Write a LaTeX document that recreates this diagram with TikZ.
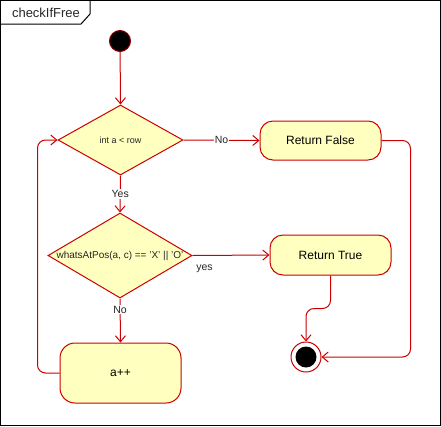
\documentclass[tikz,border=0pt]{standalone}
\usepackage{fontspec}
\setmainfont{Liberation Sans}
\usetikzlibrary{shapes.geometric,arrows.meta}
\definecolor{lred}{HTML}{CC0000}
\definecolor{lfill}{HTML}{FFFFC0}
\begin{document}
\begin{tikzpicture}[x=1pt,y=-1pt,
  act/.style={draw=lred,fill=lfill,rounded corners=13pt,line width=1pt,font=\fontsize{12}{14}\selectfont,inner sep=0},
  dec/.style={diamond,draw=lred,fill=lfill,line width=1pt,inner sep=0},
  flow/.style={draw=lred,line width=1pt,-{Straight Barb[length=6pt,width=10pt]}},
  lbl/.style={font=\fontsize{10.5}{12}\selectfont,fill=white,inner sep=1pt,text=black!85}]
\useasboundingbox (0,0) rectangle (441,426);
\draw[line width=1pt] (0.5,0.5) rectangle (440.5,425.5);
\draw[line width=1pt] (0.5,24) -- (81,24) -- (90,14) -- (90,0.5);
\node[font=\fontsize{13}{15}\selectfont,text=black!85] (title) at (46,12.5) {checkIfFree};

\node[circle,fill=black,draw=lred!70!black,line width=1pt,minimum size=21pt,inner sep=0] (start) at (120,41) {};

\node[dec,minimum width=125pt,minimum height=70pt,
  label={[font=\fontsize{9}{11}\selectfont,text=black!85]center:int a < row}] (d1) at (120.5,140) {};
\node[act,minimum width=121pt,minimum height=39pt] (rf) at (320.5,140.5) {Return False};
\node[dec,minimum width=144pt,minimum height=85pt,
  label={[font=\fontsize{10}{12}\selectfont,text=black!85]center:whatsAtPos(a, c) == 'X' || 'O'}] (d2) at (120,255.5) {};
\node[act,minimum width=121pt,minimum height=40pt] (rt) at (330.5,255) {Return True};
\node[act,rounded corners=15pt,minimum width=121pt,minimum height=60pt] (app) at (120.5,373) {a++};

\node[circle,draw=lred,fill=white,line width=1pt,minimum size=30pt,inner sep=0] (fin) at (306,357) {};
\node[circle,fill=black,minimum size=21pt,inner sep=0] (finin) at (fin.center) {};

\draw[flow] (start) -- (d1.north);
\draw[flow] (d1.east) -- node[lbl]{No} (rf.west);
\draw[flow] (d1.south) -- node[lbl]{Yes} (d2.north);
\draw[flow] (d2.east) -- node[pos=0,anchor=west,xshift=0pt,yshift=-13pt,font=\fontsize{10.5}{12}\selectfont,text=black!85]{yes} (rt.west);
\draw[flow] (d2.south) -- node[lbl,pos=0.25]{No} (app.north);
\draw[flow,rounded corners=8pt] (app.west) -- ++(-22,0) |- (d1.west);
\draw[flow,rounded corners=8pt] (rf.east) -- ++(29,0) |- (fin.east);
\draw[flow,rounded corners=8pt] (rt.south) -- ++(0,33) -| (fin.north);
\end{tikzpicture}
\end{document}
